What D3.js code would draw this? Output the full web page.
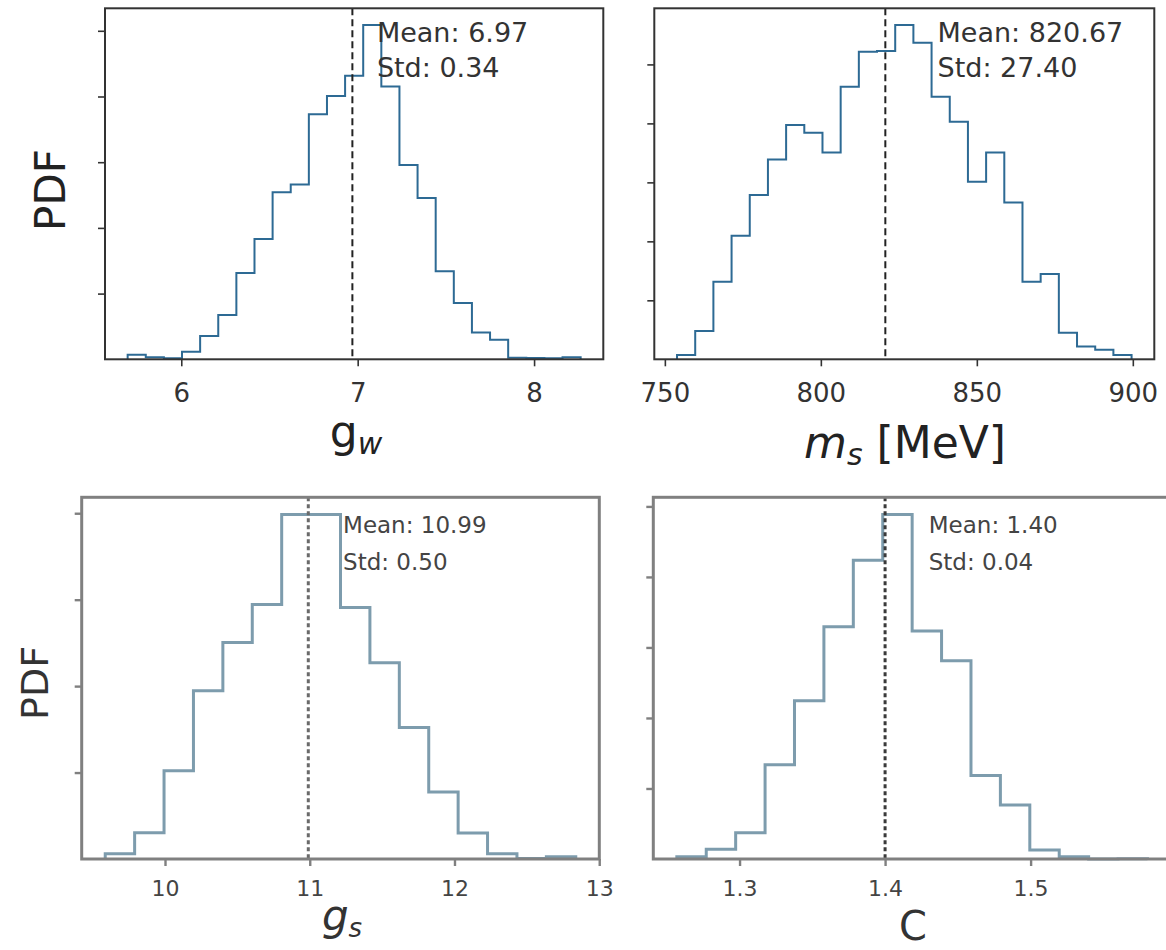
<!DOCTYPE html>
<html>
<head>
<meta charset="utf-8">
<script src="https://cdn.jsdelivr.net/npm/d3@7"></script>
<style>
  body { margin: 0; background: #fff; }
  svg { display: block; font-family: "DejaVu Sans", sans-serif; }
</style>
</head>
<body>
<svg id="chart"></svg>
<script>
// histogram data (densities, 1 value per bin)
const gwRange = [5.696, 8.264];
const gwDensity = [0.017, 0.008, 0.004, 0.029, 0.089, 0.169, 0.328, 0.458, 0.636, 0.665, 0.932, 1.002, 1.079,
                   1.272, 1.038, 0.739, 0.614, 0.335, 0.214, 0.102, 0.074, 0.006, 0.005, 0.004, 0.008];
const gwTicks = [6, 7, 8];
const gwYTicks = [0.25, 0.5, 0.75, 1.0, 1.25];
const gwStats = [6.97, 0.34];

const msRange = [753.9, 899.6];
const msDensity = [0.00018, 0.00120, 0.00329, 0.00524, 0.00696, 0.00847, 0.00993, 0.00960, 0.00877, 0.01155,
                   0.01304, 0.01307, 0.01417, 0.01342, 0.01113, 0.01007, 0.00753, 0.00877, 0.00665, 0.00329,
                   0.00362, 0.00113, 0.00054, 0.00040, 0.00018];
const msTicks = [750, 800, 850, 900];
const msYTicks = [0.0025, 0.005, 0.0075, 0.01, 0.0125];
const msStats = [820.67, 27.40];

const gsRange = [9.587, 12.838];
const gsDensity = [0.012, 0.061, 0.204, 0.389, 0.501, 0.589, 0.797, 0.797, 0.582, 0.454, 0.304, 0.155,
                   0.060, 0.012, 0.001, 0.005];
const gsTicks = [10, 11, 12, 13];
const gsYTicks = [0.2, 0.4, 0.6, 0.8];
const gsStats = [10.99, 0.50];

const cRange = [1.2569, 1.5803];
const cDensity = [0.065, 0.274, 0.743, 2.675, 4.49, 6.59, 8.47, 9.77, 6.47, 5.62, 2.37, 1.53, 0.254, 0.065, 0.0, 0.01];
const cTicks = [1.3, 1.4, 1.5];
const cYTicks = [2, 4, 6, 8, 10];
const cStats = [1.40, 0.04];

const W = 1166, H = 950;
const svg = d3.select("#chart").attr("width", W).attr("height", H);

// top row is crisp, bottom row is a greyer, softer copy
const topStyle = { frame: "#333", frameW: 2, line: "#2d6a94", lineW: 2, mean: "#222", meanW: 2, dash: "7,4",
                   text: "#333", textSize: 27, tickSize: 26, tickLabelY: 43, line1: 34, line2: 69 };
const botStyle = { frame: "#808080", frameW: 3, line: "#7d9cad", lineW: 3, mean: "#6a6a6a", meanW: 3, dash: "4,3",
                   text: "#444", textSize: 23, tickSize: 22, tickLabelY: 37, line1: 36, line2: 73 };

const panels = [
  { range: gwRange, dens: gwDensity, ticks: gwTicks, yTicks: gwYTicks, stats: gwStats,
    box: [105, 8.3, 603.3, 359.3], textX: 7.109, st: topStyle, fmt: d3.format("d") },
  { range: msRange, dens: msDensity, ticks: msTicks, yTicks: msYTicks, stats: msStats,
    box: [654.3, 8.3, 1154.3, 359.3], textX: 837.4, st: topStyle, fmt: d3.format("d") },
  { range: gsRange, dens: gsDensity, ticks: gsTicks, yTicks: gsYTicks, stats: gsStats,
    box: [81.7, 497.3, 599.3, 859], textX: 11.23, st: botStyle, fmt: d3.format("d") },
  { range: cRange, dens: cDensity, ticks: cTicks, yTicks: cYTicks, stats: cStats,
    box: [653.3, 497.3, 1171, 859], textX: 1.430, st: Object.assign({}, botStyle, { mean: "#3a3a3a" }), fmt: d3.format(".1f") }
];

panels.forEach(p => {
  const [x0, y0, x1, y1] = p.box;
  const st = p.st;
  const R = p.range[1] - p.range[0];
  const n = p.dens.length;
  const bw = R / n;

  const x = d3.scaleLinear()
    .domain([p.range[0] - 0.05 * R, p.range[1] + 0.05 * R])
    .range([x0, x1]);
  const y = d3.scaleLinear()
    .domain([0, d3.max(p.dens) * 1.05])
    .range([y1, y0]);

  const g = svg.append("g");

  // step outline
  const pts = [[p.range[0], 0]];
  p.dens.forEach((d, i) => {
    const a = p.range[0] + i * bw;
    pts.push([a, d], [a + bw, d]);
  });
  pts.push([p.range[1], 0]);

  g.append("path")
    .attr("d", d3.line().x(d => x(d[0])).y(d => y(d[1]))(pts))
    .attr("fill", "none")
    .attr("stroke", st.line)
    .attr("stroke-width", st.lineW)
    .attr("stroke-linejoin", "miter");

  // mean line
  g.append("line")
    .attr("x1", x(p.stats[0])).attr("x2", x(p.stats[0]))
    .attr("y1", y0).attr("y2", y1)
    .attr("stroke", st.mean)
    .attr("stroke-width", st.meanW)
    .attr("stroke-dasharray", st.dash);

  // axes
  const xa = g.append("g")
    .attr("transform", `translate(0,${y1})`)
    .call(d3.axisBottom(x).tickValues(p.ticks).tickFormat(p.fmt).tickSize(7));
  xa.select(".domain").remove();
  xa.selectAll("line").attr("stroke", st.frame).attr("stroke-width", st.frameW * 0.8);
  xa.selectAll("text")
    .attr("y", st.tickLabelY).attr("dy", null)
    .attr("fill", st.text)
    .style("font-size", st.tickSize + "px")
    .style("font-family", "DejaVu Sans");

  const ya = g.append("g")
    .attr("transform", `translate(${x0},0)`)
    .call(d3.axisLeft(y).tickValues(p.yTicks).tickFormat("").tickSize(7));
  ya.select(".domain").remove();
  ya.selectAll("line").attr("stroke", st.frame).attr("stroke-width", st.frameW * 0.8);

  // frame
  g.append("rect")
    .attr("x", x0).attr("y", y0)
    .attr("width", x1 - x0).attr("height", y1 - y0)
    .attr("fill", "none")
    .attr("stroke", st.frame)
    .attr("stroke-width", st.frameW);

  // stats text
  const tx = x(p.textX);
  g.append("text")
    .attr("x", tx).attr("y", y0 + st.line1)
    .attr("fill", st.text)
    .style("font-size", st.textSize + "px")
    .text(`Mean: ${p.stats[0].toFixed(2)}`);
  g.append("text")
    .attr("x", tx).attr("y", y0 + st.line2)
    .attr("fill", st.text)
    .style("font-size", st.textSize + "px")
    .text(`Std: ${p.stats[1].toFixed(2)}`);
});

// axis titles
svg.append("text")
  .attr("transform", "translate(65,190) rotate(-90)")
  .attr("text-anchor", "middle")
  .style("font-size", "42px").attr("fill", "#222")
  .text("PDF");
svg.append("text")
  .attr("transform", "translate(48,683) rotate(-90)")
  .attr("text-anchor", "middle")
  .style("font-size", "38px").attr("fill", "#333")
  .text("PDF");

const gw = svg.append("text")
  .attr("x", 356).attr("y", 447)
  .attr("text-anchor", "middle")
  .style("font-size", "44px").attr("fill", "#222");
gw.append("tspan").text("g");
gw.append("tspan").attr("font-style", "italic").attr("font-size", "30px").attr("dy", 7).text("w");

const ms = svg.append("text")
  .attr("x", 905).attr("y", 458)
  .attr("text-anchor", "middle")
  .style("font-size", "44px").attr("fill", "#222");
ms.append("tspan").attr("font-style", "italic").text("m");
ms.append("tspan").attr("font-style", "italic").attr("font-size", "30px").attr("dy", 7).text("s");
ms.append("tspan").attr("dy", -7).text(" [MeV]");

const gs = svg.append("text")
  .attr("x", 342).attr("y", 930)
  .attr("text-anchor", "middle")
  .style("font-size", "42px").attr("fill", "#333");
gs.append("tspan").attr("font-style", "italic").text("g");
gs.append("tspan").attr("font-style", "italic").attr("font-size", "26px").attr("dy", 7).text("s");

svg.append("text")
  .attr("x", 913).attr("y", 940)
  .attr("text-anchor", "middle")
  .style("font-size", "40px").attr("fill", "#333")
  .text("C");
</script>
</body>
</html>
